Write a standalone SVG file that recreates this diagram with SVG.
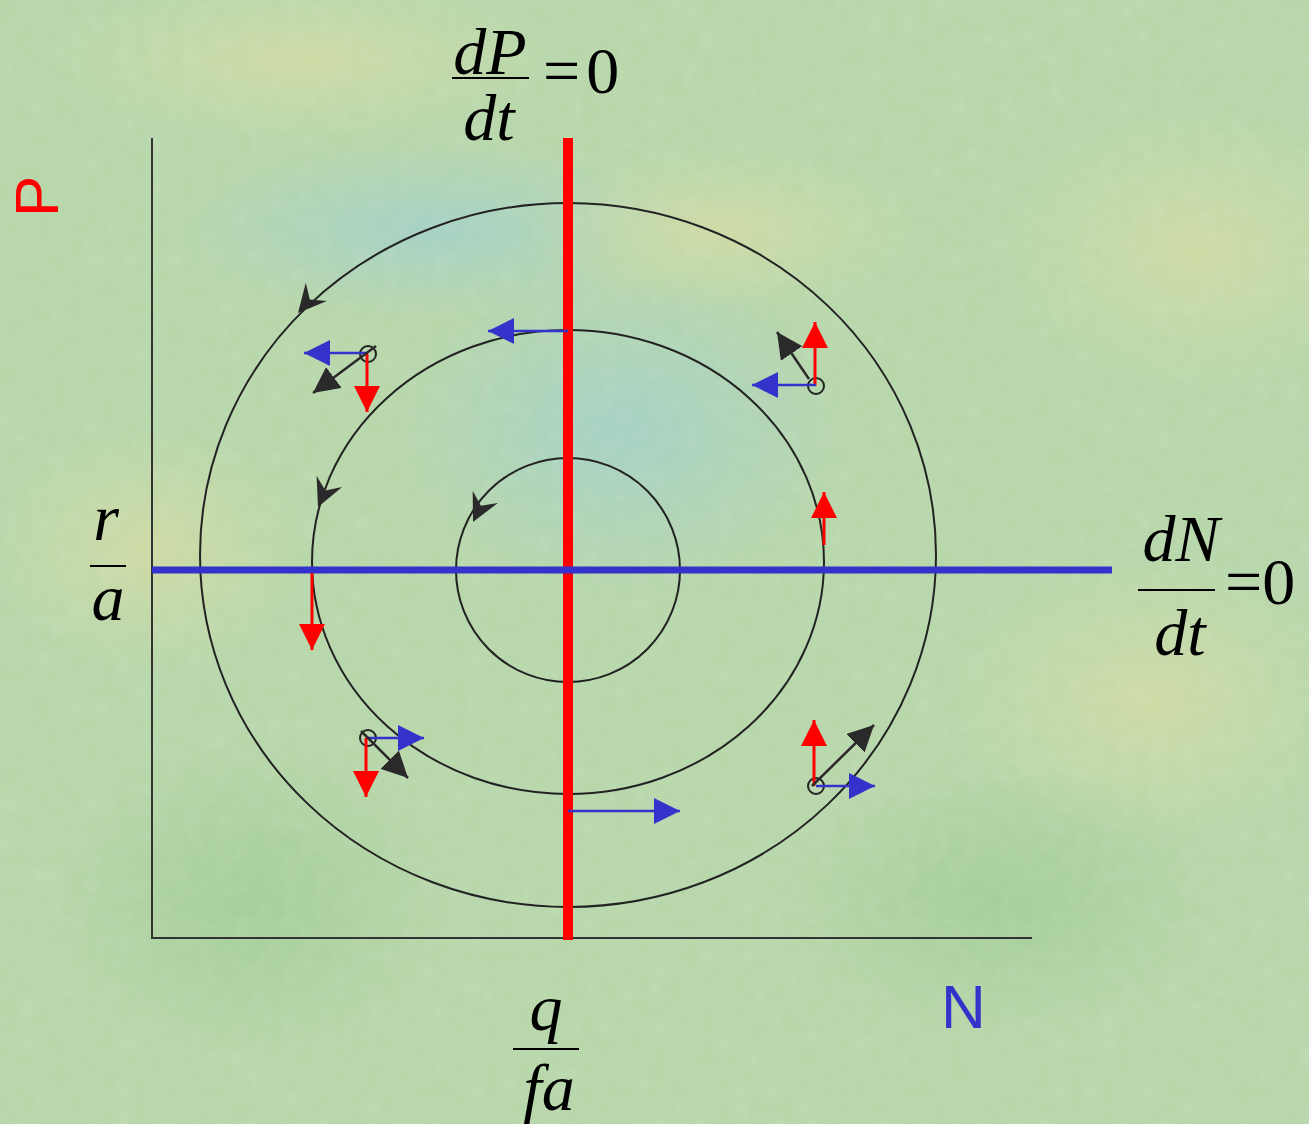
<svg xmlns="http://www.w3.org/2000/svg" width="1309" height="1124" viewBox="0 0 1309 1124">
  <style>
    .ax{stroke:#333;stroke-width:2;fill:none}
    .orbit{stroke:#222;stroke-width:2;fill:none}
    .blue{stroke:#3333cc;stroke-width:2.5;fill:none}
    .red{stroke:#ff0000;stroke-width:3;fill:none}
    .blk{stroke:#2a2a2a;stroke-width:2.5;fill:none}
    .math{font-family:"Liberation Serif","Times New Roman",serif;font-size:66px;fill:#000}
    .it{font-style:italic}
    .eq{letter-spacing:6px}
    .frac{stroke:#000;stroke-width:2}
    .lbl{font-family:"Liberation Sans",Arial,sans-serif;font-size:62px}
  </style>
  <defs>
    <marker id="hB" viewBox="0 0 26 26" refX="26" refY="13" markerWidth="26" markerHeight="26" markerUnits="userSpaceOnUse" orient="auto"><path d="M0,0 L26,13 L0,26 z" fill="#3333cc"/></marker>
    <marker id="hR" viewBox="0 0 26 26" refX="26" refY="13" markerWidth="26" markerHeight="26" markerUnits="userSpaceOnUse" orient="auto"><path d="M0,0 L26,13 L0,26 z" fill="#ff0000"/></marker>
    <marker id="hK" viewBox="0 0 26 26" refX="26" refY="13" markerWidth="26" markerHeight="26" markerUnits="userSpaceOnUse" orient="auto"><path d="M0,0 L26,13 L0,26 z" fill="#2a2a2a"/></marker>
    <path id="oh" d="M0,0 L-28,-14 L-18,0 L-28,14 z" fill="#2a2a2a"/>
    <radialGradient id="g1"><stop offset="0" stop-color="#9fcfd0" stop-opacity="0.7"/><stop offset="1" stop-color="#9fcfd0" stop-opacity="0"/></radialGradient>
    <radialGradient id="g2"><stop offset="0" stop-color="#d8dca4" stop-opacity="0.7"/><stop offset="1" stop-color="#d8dca4" stop-opacity="0"/></radialGradient>
    <radialGradient id="g3"><stop offset="0" stop-color="#98c890" stop-opacity="0.6"/><stop offset="1" stop-color="#98c890" stop-opacity="0"/></radialGradient>
    <filter id="tex" x="0" y="0" width="100%" height="100%">
      <feTurbulence type="fractalNoise" baseFrequency="0.06" numOctaves="2" seed="4"/>
      <feColorMatrix values="0 0 0 0 1  0 0 0 0 1  0 0 0 0 1  0 0 0 0.3 -0.1"/>
    </filter>
  </defs>

  <g id="background">
    <rect width="1309" height="1124" fill="#b8d7ab"/>
    <ellipse cx="430" cy="230" rx="260" ry="90" fill="url(#g1)"/>
    <ellipse cx="620" cy="430" rx="230" ry="170" fill="url(#g1)"/>
    <ellipse cx="720" cy="230" rx="200" ry="80" fill="url(#g2)"/>
    <ellipse cx="1150" cy="700" rx="200" ry="140" fill="url(#g2)"/>
    <ellipse cx="150" cy="550" rx="160" ry="120" fill="url(#g2)"/>
    <ellipse cx="250" cy="900" rx="200" ry="160" fill="url(#g3)"/>
    <ellipse cx="1000" cy="900" rx="220" ry="140" fill="url(#g3)"/>
    <ellipse cx="1200" cy="250" rx="200" ry="140" fill="url(#g2)"/>
    <ellipse cx="300" cy="60" rx="250" ry="80" fill="url(#g2)"/>
    <rect width="1309" height="1124" filter="url(#tex)" opacity="0.45"/>
  </g>

  <g id="axes">
    <path class="ax" d="M152,138 V938 H1032"/>
  </g>

  <g id="orbits">
    <ellipse class="orbit" cx="568" cy="555" rx="368" ry="352"/>
    <ellipse class="orbit" cx="568" cy="562" rx="256" ry="232"/>
    <circle class="orbit" cx="568" cy="570" r="112"/>
    <use href="#oh" transform="translate(298,313) rotate(131)"/>
    <use href="#oh" transform="translate(318,507) rotate(114)"/>
    <use href="#oh" transform="translate(473,522) rotate(116)"/>
  </g>

  <g id="isoclines">
    <line x1="568" y1="138" x2="568" y2="940" stroke="#ff0000" stroke-width="10"/>
    <line x1="152" y1="570" x2="1112" y2="570" stroke="#3333cc" stroke-width="7"/>
  </g>

  <g id="connectors">
    <circle class="orbit" cx="368" cy="354" r="8"/>
    <line class="blue" x1="368" y1="353" x2="304" y2="353" marker-end="url(#hB)"/>
    <line class="red" x1="367" y1="354" x2="367" y2="412" marker-end="url(#hR)"/>
    <line class="blk" x1="376" y1="346" x2="313" y2="393" marker-end="url(#hK)"/>
    <circle class="orbit" cx="816" cy="386" r="8"/>
    <line class="red" x1="815" y1="386" x2="815" y2="322" marker-end="url(#hR)"/>
    <line class="blue" x1="816" y1="385" x2="752" y2="385" marker-end="url(#hB)"/>
    <line class="blk" x1="809" y1="379" x2="777" y2="332" marker-end="url(#hK)"/>
    <circle class="orbit" cx="368" cy="738" r="8"/>
    <line class="blue" x1="368" y1="738" x2="424" y2="738" marker-end="url(#hB)"/>
    <line class="red" x1="366" y1="738" x2="366" y2="797" marker-end="url(#hR)"/>
    <line class="blk" x1="361" y1="731" x2="408" y2="778" marker-end="url(#hK)"/>
    <circle class="orbit" cx="816" cy="786" r="8"/>
    <line class="red" x1="814" y1="786" x2="814" y2="720" marker-end="url(#hR)"/>
    <line class="blue" x1="816" y1="786" x2="875" y2="786" marker-end="url(#hB)"/>
    <line class="blk" x1="812" y1="786" x2="874" y2="725" marker-end="url(#hK)"/>
    <line class="blue" x1="568" y1="331" x2="488" y2="331" marker-end="url(#hB)"/>
    <line class="blue" x1="568" y1="811" x2="680" y2="811" marker-end="url(#hB)"/>
    <line class="red" x1="824" y1="545" x2="824" y2="492" marker-end="url(#hR)"/>
    <line class="red" x1="312" y1="573" x2="312" y2="650" marker-end="url(#hR)"/>
  </g>

  <g id="label-dPdt">
    <text class="math it" x="490" y="74" text-anchor="middle">dP</text>
    <line class="frac" x1="452" y1="78" x2="529" y2="78"/>
    <text class="math it" x="489" y="140" text-anchor="middle">dt</text>
    <text class="math eq" x="543" y="93">=0</text>
  </g>

  <g id="label-dNdt">
    <text class="math it" x="1181" y="561" text-anchor="middle">dN</text>
    <line class="frac" x1="1138" y1="590" x2="1215" y2="590"/>
    <text class="math it" x="1180" y="655" text-anchor="middle">dt</text>
    <text class="math" x="1225" y="604">=0</text>
  </g>

  <g id="label-ra">
    <text class="math it" x="106" y="540" text-anchor="middle">r</text>
    <line class="frac" x1="90" y1="566" x2="126" y2="566"/>
    <text class="math it" x="108" y="620" text-anchor="middle">a</text>
  </g>

  <g id="label-qfa">
    <text class="math it" x="546" y="1030" text-anchor="middle">q</text>
    <line class="frac" x1="513" y1="1049" x2="579" y2="1049"/>
    <text class="math it" x="549" y="1110" text-anchor="middle">fa</text>
  </g>

  <g id="label-P">
    <text class="lbl" x="0" y="0" fill="#ff0000" transform="translate(58,217) rotate(-90)">P</text>
  </g>

  <g id="label-N">
    <text class="lbl" x="941" y="1028" fill="#3333cc">N</text>
  </g>
</svg>
